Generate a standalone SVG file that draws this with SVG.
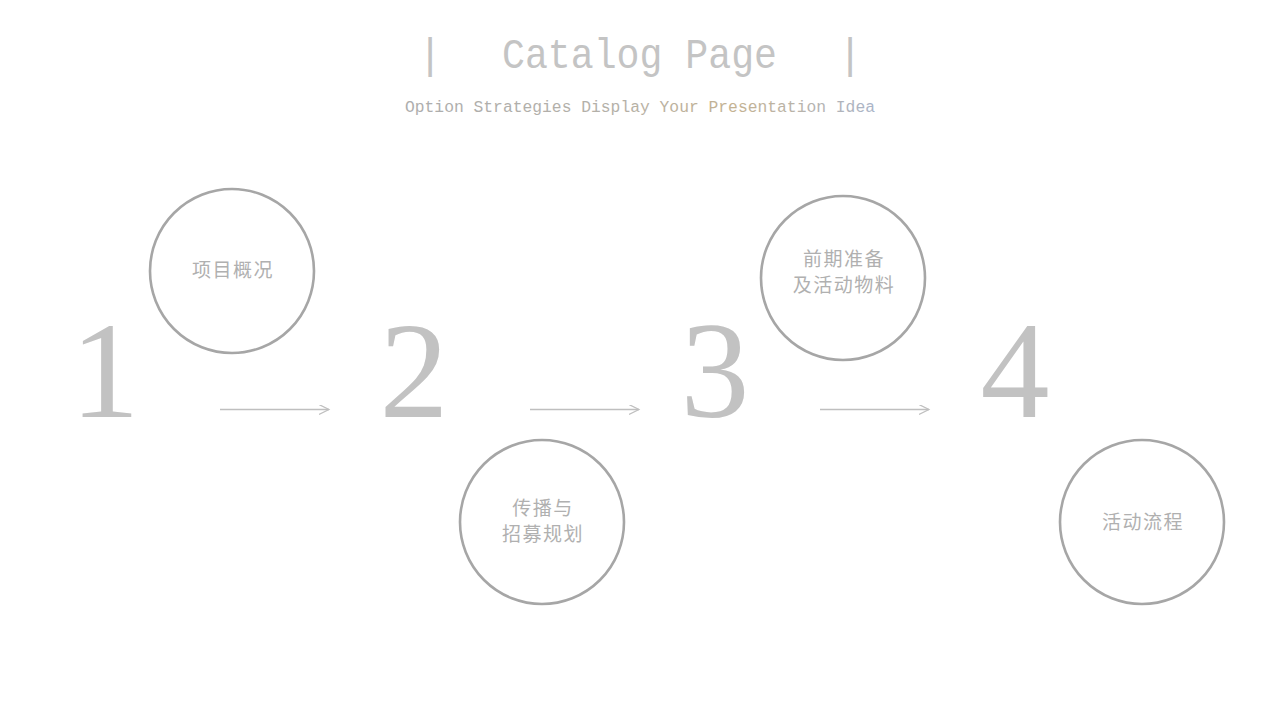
<svg xmlns="http://www.w3.org/2000/svg" width="1280" height="720" viewBox="0 0 1280 720">
<defs>
<style>
.title{font-family:"Liberation Mono","DejaVu Sans Mono",monospace;fill:#c4c4c4}
.sub{font-family:"Liberation Mono","DejaVu Sans Mono",monospace;font-size:16.3px}
.num{font-family:"Liberation Serif","DejaVu Serif",serif;font-size:138px;fill:#c2c2c2;text-anchor:middle}
.ring{fill:none;stroke:#a6a6a6;stroke-width:2.6}
.lbl{font-family:"Noto Sans CJK SC","Noto Sans",sans-serif;font-size:19px;letter-spacing:1.5px;fill:#b0b0b0;text-anchor:middle}
.conn{stroke:#bfbfbf;stroke-width:1.3;fill:none}
</style>
<linearGradient id="subg" x1="405" y1="0" x2="875" y2="0" gradientUnits="userSpaceOnUse">
<stop offset="0" stop-color="#adadad"/>
<stop offset="0.45" stop-color="#b4b0a8"/>
<stop offset="0.7" stop-color="#c4b292"/>
<stop offset="1" stop-color="#aab4c8"/>
</linearGradient>
<marker id="arr" markerWidth="12" markerHeight="12" refX="10" refY="5" orient="auto" markerUnits="userSpaceOnUse">
<path d="M0,0 L10,5 L0,10" fill="none" stroke="#bfbfbf" stroke-width="1.2"/>
</marker>
</defs>
<rect width="1280" height="720" fill="#ffffff"/>
<g id="header">
<text class="title" x="430" y="68" font-size="42" text-anchor="middle">|</text>
<text class="title" x="502" y="68" font-size="42" textLength="275" lengthAdjust="spacingAndGlyphs">Catalog Page</text>
<text class="title" x="850" y="68" font-size="42" text-anchor="middle">|</text>
<text class="sub" x="405" y="112" textLength="470" lengthAdjust="spacingAndGlyphs" fill="url(#subg)">Option Strategies Display Your Presentation Idea</text>
</g>
<g id="connectors">
<line class="conn" x1="220" y1="409.5" x2="329" y2="409.5" marker-end="url(#arr)"/>
<line class="conn" x1="530" y1="409.5" x2="639" y2="409.5" marker-end="url(#arr)"/>
<line class="conn" x1="820" y1="409.5" x2="929" y2="409.5" marker-end="url(#arr)"/>
</g>
<g id="node1">
<text class="num" x="105" y="417">1</text>
<circle class="ring" cx="232" cy="271" r="82"/>
<text class="lbl" x="233" y="277">项目概况</text>
</g>
<g id="node2">
<text class="num" x="414" y="417">2</text>
<circle class="ring" cx="542" cy="522" r="82"/>
<text class="lbl" x="543" y="515">传播与</text>
<text class="lbl" x="543" y="541">招募规划</text>
</g>
<g id="node3">
<text class="num" x="715" y="417">3</text>
<circle class="ring" cx="843" cy="278" r="82"/>
<text class="lbl" x="844" y="266">前期准备</text>
<text class="lbl" x="844" y="292">及活动物料</text>
</g>
<g id="node4">
<text class="num" x="1015" y="417">4</text>
<circle class="ring" cx="1142" cy="522" r="82"/>
<text class="lbl" x="1143" y="529">活动流程</text>
</g>
</svg>
